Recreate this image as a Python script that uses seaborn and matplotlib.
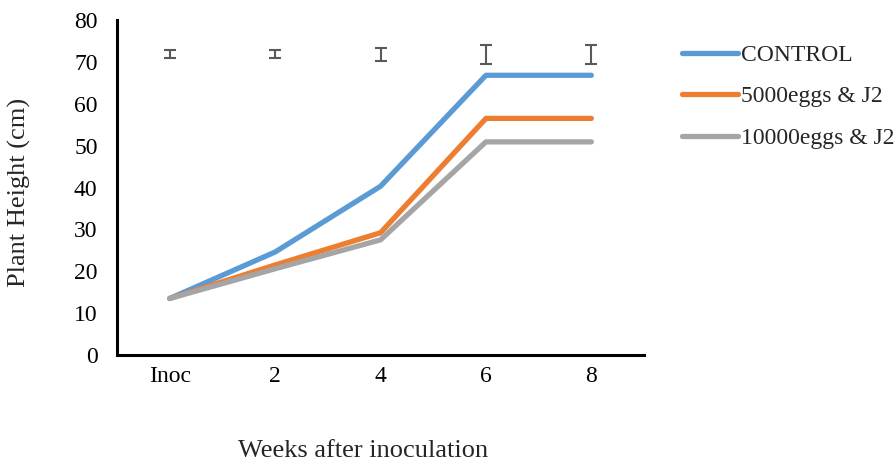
import matplotlib
matplotlib.use("Agg")
import matplotlib.pyplot as plt
import seaborn as sns
import pandas as pd

weeks = ["Inoc", "2", "4", "6", "8"]
control = [13.5, 24.6, 40.3, 66.8, 66.8]
eggs5000 = [13.5, 21.5, 29.2, 56.5, 56.5]
eggs10000 = [13.5, 20.6, 27.5, 50.9, 50.9]
series_names = ["CONTROL", "5000eggs & J2", "10000eggs & J2"]
err_center = [71.9, 71.9, 71.8, 71.7, 71.7]
err_size = [0.9, 0.9, 1.6, 2.3, 2.3]

sns.set_theme(style="white")
plt.rcParams['font.family'] = ['Liberation Serif', 'DejaVu Serif']

df = pd.DataFrame({
    "week": weeks * 3,
    "height": control + eggs5000 + eggs10000,
    "series": [series_names[0]] * 5 + [series_names[1]] * 5 + [series_names[2]] * 5,
})

fig = plt.figure(figsize=(8.96, 4.61), dpi=100)
ax = fig.add_axes([0.1306, 0.2299, 0.5882, 0.7267])

palette = {series_names[0]: "#5B9BD5", series_names[1]: "#ED7D31", series_names[2]: "#A5A5A5"}
sns.lineplot(data=df, x="week", y="height", hue="series", palette=palette,
             linewidth=3.8, ax=ax, sort=False, solid_capstyle="round")

ax.errorbar(weeks, err_center, yerr=err_size, fmt="none", ecolor="#595959",
            elinewidth=1.5, capsize=4, capthick=1.5)

ax.set_xlim(-0.5, 4.5)
ax.set_ylim(0, 80)
ax.set_yticks(range(0, 81, 10))
ax.tick_params(axis="both", labelsize=17, colors="black", length=0, pad=8)
ax.tick_params(axis="y", pad=14)
ax.set_xlabel("Weeks after inoculation", fontsize=19)
ax.set_ylabel("Plant Height (cm)", fontsize=19)
ax.xaxis.set_label_coords(0.467, -0.255)
ax.yaxis.set_label_coords(-0.163, 0.485)

for s in ["top", "right"]:
    ax.spines[s].set_visible(False)
for s in ["left", "bottom"]:
    ax.spines[s].set_color("black")
    ax.spines[s].set_linewidth(2.2)

handles, labels = ax.get_legend_handles_labels()
leg = ax.legend(handles, labels, loc="upper left", bbox_to_anchor=(0.738, 0.95),
                bbox_transform=fig.transFigure, frameon=False, fontsize=17,
                handlelength=2.35, handletextpad=0.12, labelspacing=0.85)

fig.savefig("out.png", dpi=100)
